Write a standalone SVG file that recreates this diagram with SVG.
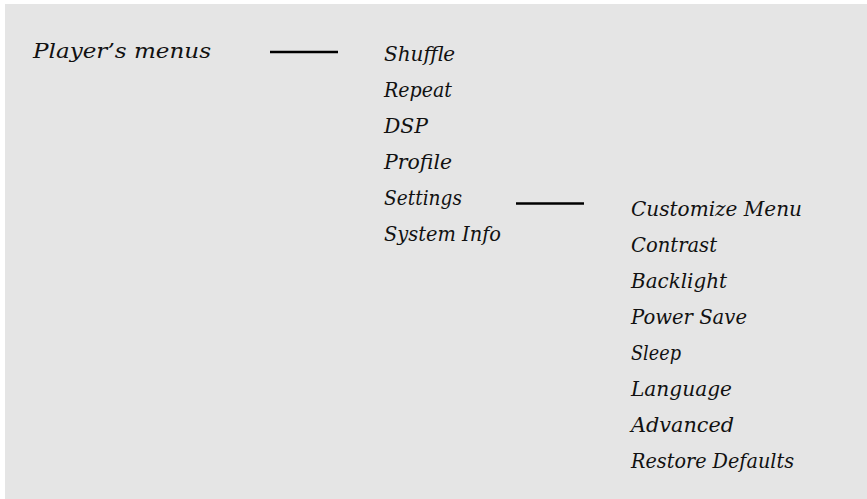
<svg xmlns="http://www.w3.org/2000/svg" width="867" height="499" viewBox="0 0 867 499">
<style>
text{font-family:"DejaVu Serif","Liberation Serif",serif;font-style:italic;font-size:21px;fill:#111}
.ln{stroke:#000;stroke-width:2.6}
</style>
<rect x="0" y="0" width="867" height="499" fill="#ffffff"/>
<rect x="5" y="4" width="862" height="495" fill="#e5e5e5"/>
<g id="connectors">
<line class="ln" x1="270" y1="52" x2="338" y2="52"/>
<line class="ln" x1="516" y1="203.5" x2="584" y2="203.5"/>
</g>
<g id="root"><text x="33" y="58" textLength="178" lengthAdjust="spacingAndGlyphs">Player’s menus</text></g>
<g id="level1">
<g id="shuffle"><text x="384" y="61" textLength="71" lengthAdjust="spacingAndGlyphs">Shuffle</text></g>
<g id="repeat"><text x="384" y="97" textLength="68" lengthAdjust="spacingAndGlyphs">Repeat</text></g>
<g id="dsp"><text x="384" y="133" textLength="44" lengthAdjust="spacingAndGlyphs">DSP</text></g>
<g id="profile"><text x="384" y="169" textLength="68" lengthAdjust="spacingAndGlyphs">Profile</text></g>
<g id="settings"><text x="384" y="205" textLength="78" lengthAdjust="spacingAndGlyphs">Settings</text></g>
<g id="systeminfo"><text x="384" y="241" textLength="117" lengthAdjust="spacingAndGlyphs">System Info</text></g>
</g>
<g id="level2">
<g id="customize"><text x="631" y="216" textLength="171" lengthAdjust="spacingAndGlyphs">Customize Menu</text></g>
<g id="contrast"><text x="631" y="252" textLength="86" lengthAdjust="spacingAndGlyphs">Contrast</text></g>
<g id="backlight"><text x="631" y="288" textLength="96" lengthAdjust="spacingAndGlyphs">Backlight</text></g>
<g id="powersave"><text x="631" y="324" textLength="116" lengthAdjust="spacingAndGlyphs">Power Save</text></g>
<g id="sleep"><text x="631" y="360" textLength="50" lengthAdjust="spacingAndGlyphs">Sleep</text></g>
<g id="language"><text x="631" y="396" textLength="101" lengthAdjust="spacingAndGlyphs">Language</text></g>
<g id="advanced"><text x="631" y="432" textLength="103" lengthAdjust="spacingAndGlyphs">Advanced</text></g>
<g id="restore"><text x="631" y="468" textLength="163" lengthAdjust="spacingAndGlyphs">Restore Defaults</text></g>
</g>
</svg>
